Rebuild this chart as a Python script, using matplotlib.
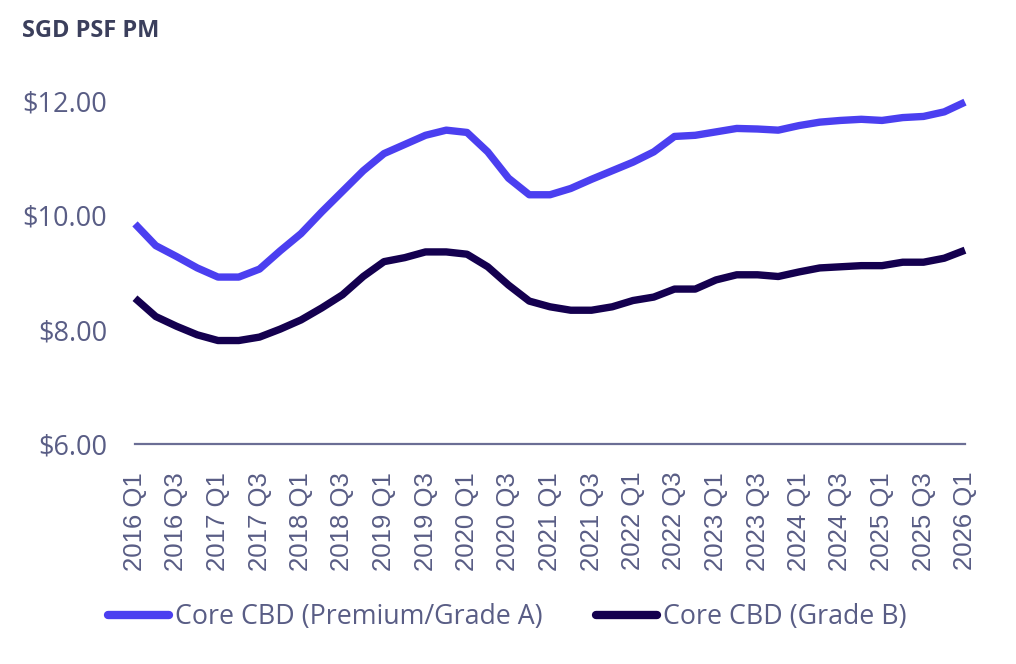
import matplotlib
matplotlib.use("Agg")
import matplotlib.pyplot as plt

quarters = []
for y in range(2016, 2027):
    for q in range(1, 5):
        if y == 2026 and q > 1:
            break
        quarters.append(f"{y} Q{q}")

premium = [9.85, 9.47, 9.28, 9.08, 8.92, 8.92, 9.06, 9.38, 9.68, 10.06,
           10.42, 10.78, 11.08, 11.24, 11.40, 11.49, 11.45, 11.11, 10.65, 10.36,
           10.36, 10.47, 10.63, 10.78, 10.93, 11.11, 11.38, 11.40, 11.46, 11.52,
           11.51, 11.49, 11.57, 11.63, 11.66, 11.68, 11.66, 11.71, 11.73, 11.81,
           11.98]
grade_b = [8.55, 8.23, 8.06, 7.91, 7.81, 7.81, 7.87, 8.01, 8.17, 8.38,
           8.61, 8.93, 9.19, 9.26, 9.36, 9.36, 9.32, 9.10, 8.78, 8.50,
           8.40, 8.34, 8.34, 8.40, 8.51, 8.57, 8.71, 8.71, 8.87, 8.96,
           8.96, 8.93, 9.01, 9.08, 9.10, 9.12, 9.12, 9.18, 9.18, 9.25,
           9.39]
series_names = ["Core CBD (Premium/Grade A)", "Core CBD (Grade B)"]
y_ticks = [6, 8, 10, 12]

c_prem = "#4b3ff0"
c_b = "#14004f"
c_text = "#595d85"

fig = plt.figure(figsize=(10.16, 6.64), dpi=100)
W, H = 1016, 664
left, right = 135 / W, 965 / W
y_top_px = 444 - 6.3 * (444 - 101) / 6
ax = fig.add_axes([left, 1 - 444 / H, right - left, (444 - y_top_px) / H])

x = list(range(len(quarters)))
ax.plot(x, premium, color=c_prem, lw=5.3, solid_joinstyle="round", solid_capstyle="butt",
        label=series_names[0], clip_on=False)
ax.plot(x, grade_b, color=c_b, lw=5.3, solid_joinstyle="round", solid_capstyle="butt",
        label=series_names[1], clip_on=False)

ax.set_xlim(0, len(quarters) - 1)
ax.set_ylim(6, 12.3)
ax.set_yticks(y_ticks)
ax.set_yticklabels([f"${v:.2f}" for v in y_ticks], fontfamily="Open Sans",
                   fontsize=19.5, color=c_text)
ax.set_xticks(x[::2])
ax.set_xticklabels(quarters[::2], rotation=90, fontfamily="Liberation Sans",
                   fontsize=18.5, color=c_text, va="top")
ax.tick_params(axis="y", length=0, pad=20)
ax.tick_params(axis="x", length=0, pad=20)
for s in ["top", "right", "left"]:
    ax.spines[s].set_visible(False)
ax.spines["bottom"].set_color("#6b6e95")
ax.spines["bottom"].set_linewidth(1.6)

fig.text(22 / W, 1 - 31 / H, "SGD PSF PM", fontfamily="Open Sans", fontweight="bold",
         fontsize=17, color="#3b3f5c", va="center", ha="left")

handles, labels = ax.get_legend_handles_labels()
leg = fig.legend(handles, labels, loc="center", bbox_to_anchor=(507 / W, 1 - 617 / H),
                 ncol=2, frameon=False, handlelength=2.3, handletextpad=0.2,
                 columnspacing=2.0,
                 prop={"family": "Open Sans", "size": 19.3})
for t in leg.get_texts():
    t.set_color(c_text)
for lh in leg.get_lines():
    lh.set_linewidth(6)
    lh.set_solid_capstyle("round")

fig.savefig("out.png", dpi=100)
